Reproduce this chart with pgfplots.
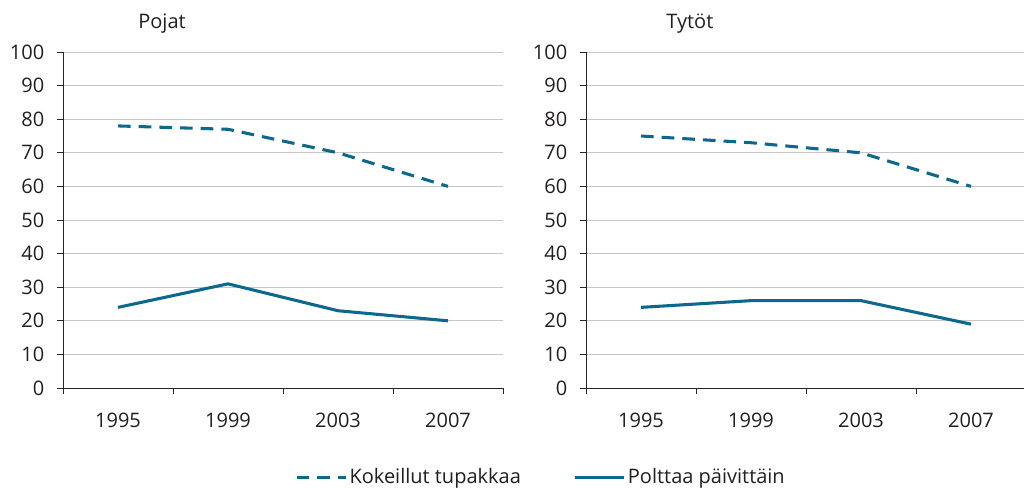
\documentclass[border=0pt]{standalone}
\usepackage{pgfplots}
\pgfplotsset{compat=1.18}
\usepackage{fontspec}
\setmainfont{Open Sans}
\definecolor{teal1}{RGB}{12,104,140}
\definecolor{txt}{RGB}{35,31,32}
\newcommand{\fs}{\fontsize{15}{18}\selectfont}
\pgfplotsset{
 mystyle/.style={
  scale only axis, width=330pt, height=252pt,
  xmin=-0.5, xmax=3.5, ymin=0, ymax=100,
  axis lines*=left, axis line style={draw=black!85, line width=0.6pt, -},
  ytick={0,10,...,100}, ymajorgrids, grid style={draw=black!22, line width=0.6pt},
  xtick={-0.5,0.5,1.5,2.5,3.5}, xticklabels={},
  extra x ticks={0,1,2,3}, extra x tick labels={1995,1999,2003,2007},
  extra x tick style={major tick length=0pt, grid=none, xticklabel style={yshift=-15pt}},
  tick align=outside, major tick length=4.5pt, tick style={draw=black!85, line width=0.6pt},
  ticklabel style={font=\fs, text=txt},
  /pgf/number format/assume math mode=true,
  yticklabel style={xshift=-6pt},
  clip=false,
  every axis plot/.append style={line width=2.3pt, teal1},
 }}
\begin{document}
\begin{tikzpicture}[x=1pt,y=1pt]
\begin{axis}[mystyle, at={(47.25pt,-291pt)}, anchor=south west,
  legend style={at={(rel axis cs:0.527,-0.265)}, anchor=west, draw=none, inner sep=0pt,
    legend columns=2, font=\fs, text=txt,
    /tikz/every even column/.append style={column sep=38pt},
    nodes={inner xsep=1.5pt}},
  legend image code/.code={\draw[#1] (0pt,0pt) -- (37pt,0pt);}]
\addplot[dash pattern=on 9.5pt off 6pt] coordinates {(0,78) (1,77) (2,70) (3,60)};
\addlegendentry{Kokeillut tupakkaa}
\addplot[solid] coordinates {(0,24) (1,31) (2,23) (3,20)};
\addlegendentry{Polttaa päivittäin}
\node[font=\fs, text=txt] at (rel axis cs:0.225,1.085) {Pojat};
\end{axis}
\begin{axis}[mystyle, at={(439.5pt,-291pt)}, anchor=south west]
\addplot[dash pattern=on 9.5pt off 6pt] coordinates {(0,75) (1,73) (2,70) (3,60)};
\addplot[solid] coordinates {(0,24) (1,26) (2,26) (3,19)};
\node[font=\fs, text=txt] at (rel axis cs:0.236,1.085) {Tytöt};
\end{axis}
\pgfresetboundingbox
\useasboundingbox (0pt,0pt) rectangle (768pt,-367.5pt);
\end{tikzpicture}
\end{document}
